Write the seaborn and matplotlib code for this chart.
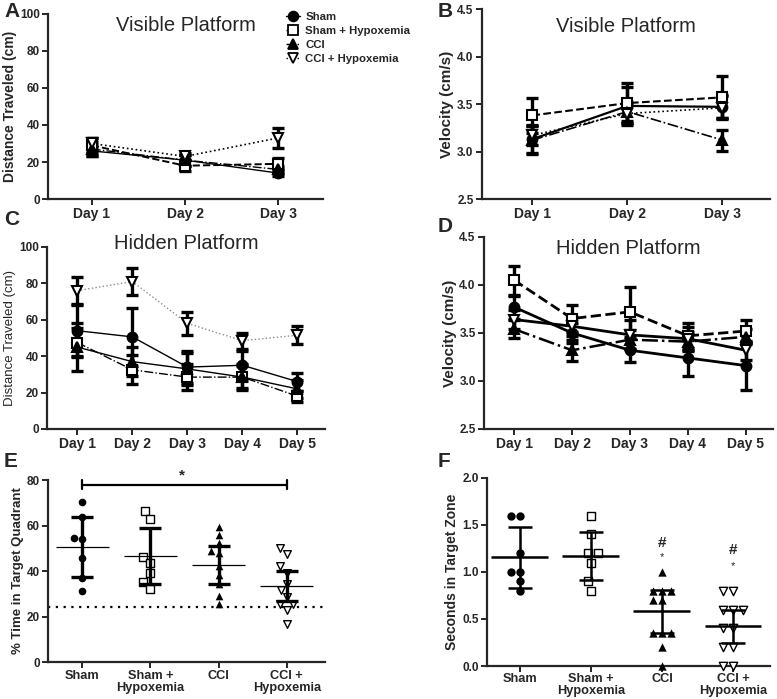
import numpy as np
import matplotlib
matplotlib.use("Agg")
import matplotlib.pyplot as plt
from matplotlib.lines import Line2D
import seaborn as sns

groups = ["Sham", "Sham + Hypoxemia", "CCI", "CCI + Hypoxemia"]
days3 = ["Day 1", "Day 2", "Day 3"]
days5 = ["Day 1", "Day 2", "Day 3", "Day 4", "Day 5"]
cat_labels = ["Sham", "Sham +\nHypoxemia", "CCI", "CCI +\nHypoxemia"]

# A - visible platform, distance (cm)
vis_dist_mean = [[26, 21, 14], [29, 18, 19], [27, 21, 16], [30, 23, 33]]
vis_dist_err = [[3, 3, 1.5], [4, 3, 3], [4, 3, 2], [3, 2, 5.5]]

# B - visible platform, velocity (cm/s)
vis_vel_mean = [[3.13, 3.48, 3.47], [3.38, 3.51, 3.57], [3.12, 3.42, 3.12], [3.17, 3.40, 3.46]]
vis_vel_err = [[0.15, 0.2, 0.12], [0.18, 0.21, 0.22], [0.15, 0.1, 0.11], [0.1, 0.1, 0.12]]

# C - hidden platform, distance (cm)
hid_dist_mean = [[54, 50.6, 34, 35, 26], [47.5, 32.5, 28.5, 28.5, 18],
                 [45, 37, 33, 28.5, 22], [76, 81, 58, 48.5, 51.5]]
hid_dist_err = [[14, 16, 9, 8, 5], [8, 8, 7, 6, 3],
                [13, 8, 9, 7, 5], [7.5, 7.5, 6.5, 4.5, 5]]

# D - hidden platform, velocity (cm/s)
hid_vel_mean = [[3.77, 3.50, 3.32, 3.24, 3.16], [4.05, 3.65, 3.72, 3.47, 3.52],
                [3.54, 3.32, 3.43, 3.41, 3.46], [3.64, 3.57, 3.48, 3.44, 3.32]]
hid_vel_err = [[0.12, 0.1, 0.12, 0.19, 0.25], [0.15, 0.14, 0.26, 0.13, 0.12],
               [0.09, 0.11, 0.1, 0.1, 0.08], [0.1, 0.1, 0.15, 0.12, 0.1]]

# E - % time in target quadrant (probe trial)
quad_sham = [70.2, 63.8, 54.6, 54.0, 45.5, 37.0, 31.1]
quad_sham_hyp = [66.4, 63.0, 46.0, 43.6, 39.2, 35.0, 32.3]
quad_cci = [59.2, 55.8, 52.4, 48.8, 47.7, 42.1, 38.2, 34.2, 28.9, 25.4]
quad_cci_hyp = [49.9, 47.3, 42.1, 39.2, 34.5, 31.6, 28.6, 25.7, 25.7, 22.8, 16.9]
quad_mean = [50.5, 46.5, 42.6, 33.3]
quad_sd = [13.3, 12.3, 8.4, 6.6]
chance_level = 24

# F - seconds in target zone
zone_sham = [1.6, 1.6, 1.2, 1.0, 1.0, 0.9, 0.8]
zone_sham_hyp = [1.6, 1.4, 1.2, 1.2, 1.1, 0.9, 0.8]
zone_cci = [1.0, 0.8, 0.8, 0.8, 0.7, 0.7, 0.35, 0.35, 0.35, 0.2, 0.0]
zone_cci_hyp = [0.8, 0.8, 0.6, 0.6, 0.6, 0.4, 0.4, 0.2, 0.2, 0.0, 0.0]
zone_mean = [1.157, 1.171, 0.58, 0.424]
zone_sd = [0.326, 0.255, 0.225, 0.175]

sns.set_style("ticks")
plt.rcParams['font.family'] = ['Liberation Sans', 'DejaVu Sans']
plt.rcParams['axes.linewidth'] = 1.6
plt.rcParams['xtick.major.width'] = 1.4
plt.rcParams['ytick.major.width'] = 1.4
plt.rcParams['xtick.major.size'] = 4
plt.rcParams['ytick.major.size'] = 4

markers = ['o', 's', '^', 'v']
faces = ['black', 'white', 'black', 'white']


def style_axes(ax, ylabel, ylab_size=10, ylab_weight='bold', xsize=10):
    sns.despine(ax=ax)
    ax.set_ylabel(ylabel, fontsize=ylab_size, fontweight=ylab_weight, labelpad=2)
    ax.set_xlabel('')
    for lab in ax.get_xticklabels():
        lab.set_fontweight('bold')
        lab.set_fontsize(xsize)
        lab.set_linespacing(0.95)
    for lab in ax.get_yticklabels():
        lab.set_fontweight('bold')
        lab.set_fontsize(8.5)
    ax.tick_params(axis='both', pad=2)


def draw_lines(ax, days, means, errs, styles, widths, colors):
    x = np.arange(len(days))
    for i in range(len(groups)):
        ax.errorbar(x, means[i], yerr=errs[i], fmt='none', ecolor='black',
                    elinewidth=2.4, capsize=4, capthick=2.4, zorder=2)
    for i in range(len(groups)):
        sns.pointplot(x=days, y=means[i], errorbar=None, ax=ax, color=colors[i],
                      marker=markers[i], linestyle=styles[i], linewidth=widths[i],
                      markersize=7, markeredgewidth=1.5, markeredgecolor='black',
                      markerfacecolor=faces[i])


def draw_scatter(ax, values, means, sds, half, lw_err, lw_mean, cap, size):
    for i in range(len(groups)):
        sns.swarmplot(x=[groups[i]] * len(values[i]), y=values[i], order=groups,
                      marker=markers[i], color=faces[i], edgecolor='black',
                      linewidth=0 if faces[i] == 'black' else 1.0, size=size, ax=ax)
    for c in ax.collections:
        c.set_clip_on(False)
    x = np.arange(len(groups))
    ax.errorbar(x, means, yerr=sds, fmt='none', ecolor='black', elinewidth=lw_err,
                capsize=cap, capthick=lw_err, zorder=3)
    ax.hlines(means, x - half, x + half, color='black', lw=lw_mean, zorder=3)
    ax.set_xticks(x)
    ax.set_xticklabels(cat_labels)


fig = plt.figure(figsize=(7.77, 6.99), dpi=100)

axA = fig.add_axes([0.0618, 0.7153, 0.3539, 0.2647])
axB = fig.add_axes([0.6203, 0.7153, 0.3707, 0.2718])
axC = fig.add_axes([0.0605, 0.3863, 0.3578, 0.2604])
axD = fig.add_axes([0.6229, 0.3863, 0.3719, 0.2747])
axE = fig.add_axes([0.0618, 0.0529, 0.3565, 0.2604])
axF = fig.add_axes([0.6268, 0.0472, 0.3642, 0.2690])

# A
draw_lines(axA, days3, vis_dist_mean, vis_dist_err,
           ['-', '--', '-.', ':'], [1.0, 1.4, 1.0, 1.2], ['black'] * 4)
axA.set_ylim(0, 100)
axA.set_yticks([0, 20, 40, 60, 80, 100])
axA.set_xlim(-0.47, 2.48)
style_axes(axA, 'Distance Traveled (cm)')
axA.text(0.5, 0.94, 'Visible Platform', transform=axA.transAxes, ha='center',
         va='center', fontsize=14.5)

# B
draw_lines(axB, days3, vis_vel_mean, vis_vel_err,
           ['-', '--', '-.', ':'], [1.6, 1.5, 1.2, 1.2], ['black'] * 4)
axB.set_ylim(2.5, 4.5)
axB.set_yticks([2.5, 3.0, 3.5, 4.0, 4.5])
axB.set_yticklabels(['2.5', '3.0', '3.5', '4.0', '4.5'])
axB.set_xlim(-0.53, 2.5)
style_axes(axB, 'Velocity (cm/s)', ylab_size=11)
axB.text(0.5, 0.91, 'Visible Platform', transform=axB.transAxes, ha='center',
         va='center', fontsize=14.5)

# C
draw_lines(axC, days5, hid_dist_mean, hid_dist_err,
           ['-', '-.', '-', ':'], [1.0, 1.0, 1.0, 1.0],
           ['black', 'black', 'black', '#8c8c8c'])
axC.set_ylim(0, 100)
axC.set_yticks([0, 20, 40, 60, 80, 100])
axC.set_xlim(-0.55, 4.5)
style_axes(axC, 'Distance Traveled (cm)', ylab_size=9.5, ylab_weight='normal')
axC.text(0.5, 1.02, 'Hidden Platform', transform=axC.transAxes, ha='center',
         va='center', fontsize=14.5)

# D
draw_lines(axD, days5, hid_vel_mean, hid_vel_err,
           ['-', '--', '-.', '-'], [2.0, 2.0, 1.8, 2.0], ['black'] * 4)
axD.set_ylim(2.5, 4.5)
axD.set_yticks([2.5, 3.0, 3.5, 4.0, 4.5])
axD.set_yticklabels(['2.5', '3.0', '3.5', '4.0', '4.5'])
axD.set_xlim(-0.52, 4.47)
style_axes(axD, 'Velocity (cm/s)', ylab_size=11)
axD.text(0.5, 0.94, 'Hidden Platform', transform=axD.transAxes, ha='center',
         va='center', fontsize=14.5)

# E
axE.axhline(chance_level, ls=(0, (1, 2.5)), lw=1.6, color='black', zorder=1)
draw_scatter(axE, [quad_sham, quad_sham_hyp, quad_cci, quad_cci_hyp],
             quad_mean, quad_sd, 0.39, 2.4, 0.9, 8, 5.5)
axE.set_ylim(0, 80)
axE.set_yticks([0, 20, 40, 60, 80])
axE.set_xlim(-0.5, 3.56)
style_axes(axE, '% Time in Target Quadrant', ylab_size=9.5, xsize=9.2)
axE.plot([0, 3], [78, 78], color='black', lw=1.6, clip_on=False)
axE.plot([0, 0], [76, 80], color='black', lw=1.6, clip_on=False)
axE.plot([3, 3], [76, 80], color='black', lw=1.6, clip_on=False)
axE.text(1.46, 79, '*', ha='center', va='bottom', fontsize=11, fontweight='bold')

# F
draw_scatter(axF, [zone_sham, zone_sham_hyp, zone_cci, zone_cci_hyp],
             zone_mean, zone_sd, 0.4, 1.8, 1.8, 8.5, 6)
axF.set_ylim(0, 2.0)
axF.set_yticks([0, 0.5, 1.0, 1.5, 2.0])
axF.set_yticklabels(['0.0', '0.5', '1.0', '1.5', '2.0'])
axF.set_xlim(-0.46, 3.52)
style_axes(axF, 'Seconds in Target Zone', ylab_size=10, xsize=9.2)
axF.tick_params(axis='x', pad=1)
for xi, yh, ys in [(2, 1.31, 1.16), (3, 1.23, 1.06)]:
    axF.text(xi, yh, '#', ha='center', va='center', fontsize=11, fontweight='bold')
    axF.text(xi, ys, '*', ha='center', va='center', fontsize=8)

# legend in panel A
handles = [Line2D([], [], color='black', marker=markers[i], linestyle=s,
                  markerfacecolor=faces[i], markeredgecolor='black', markersize=7,
                  markeredgewidth=1.3, lw=1)
           for i, s in enumerate(['-', '--', '-.', ':'])]
fig.legend(handles, groups, loc='upper left', bbox_to_anchor=(0.355, 0.998),
           frameon=False, handlelength=1.2, handletextpad=0.5, labelspacing=0.35,
           prop={'weight': 'bold', 'size': 8.2})

# panel letters
for lab, (px, py) in zip('ABCDEF', [(4, 2), (438, 2), (4, 210), (438, 217), (4, 452), (438, 452)]):
    fig.text(px / 777, 1 - py / 699, lab, fontsize=15, fontweight='bold', va='top')

fig.savefig('out.png', dpi=100)
